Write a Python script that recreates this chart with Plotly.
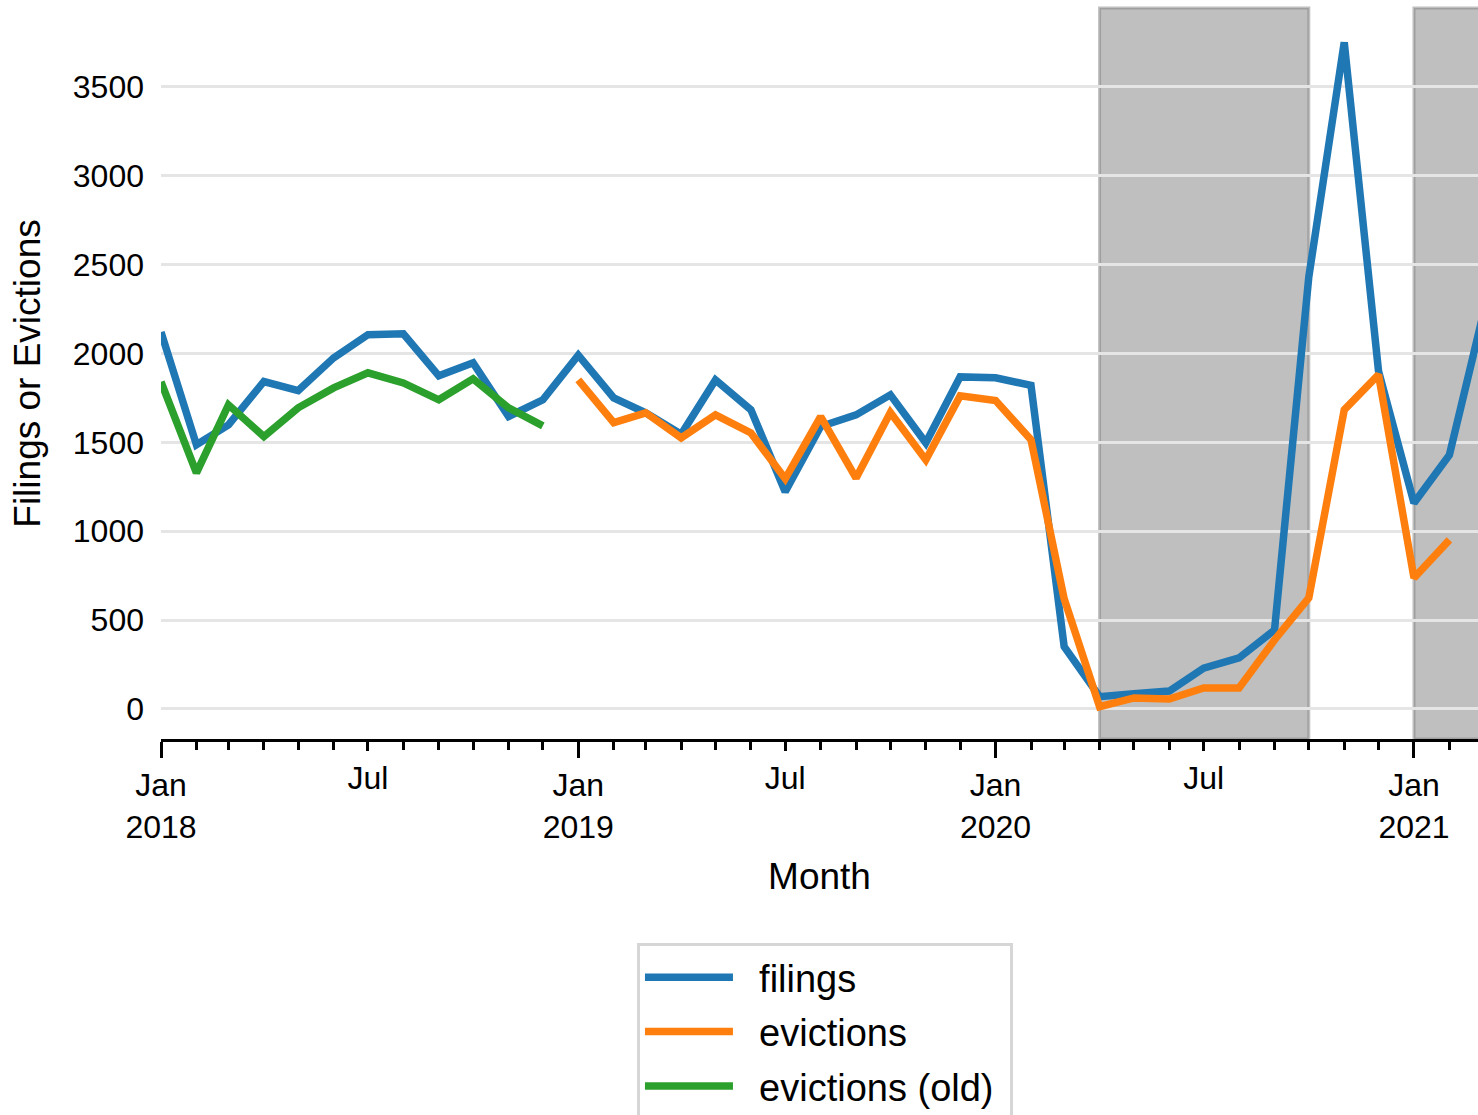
import pandas as pd
import plotly.graph_objects as go

# ---- data ----
months = pd.date_range("2018-01-01", periods=39, freq="MS")

filings = [2120, 1486, 1598, 1842, 1791, 1975, 2105, 2110, 1874, 1947, 1645, 1739,
           1990, 1750, 1666, 1545, 1851, 1683, 1222, 1589, 1654, 1767, 1497, 1868,
           1863, 1820, 351, 69, 85, 101, 230, 287, 444, 2430, 3750, 1900, 1159, 1429,
           2180]

evictions_months = months[12:38]
evictions = [1851, 1611, 1666, 1525, 1654, 1553, 1295, 1645, 1299, 1668, 1401, 1761,
             1735, 1514, 620, 13, 62, 56, 118, 118, 388, 625, 1683, 1880, 737, 951]

evictions_old_months = months[0:12]
evictions_old = [1840, 1328, 1711, 1532, 1694, 1806, 1891, 1834, 1739, 1857, 1694, 1592]

shade_starts = ["2020-04-01", "2021-01-01"]
shade_ends = ["2020-10-01", "2021-04-01"]

major_tickvals = ["2018-01-01", "2019-01-01", "2020-01-01", "2021-01-01"]
major_ticktext = ["Jan<br>2018", "Jan<br>2019", "Jan<br>2020", "Jan<br>2021"]
jul_tickvals = ["2018-07-01", "2019-07-01", "2020-07-01"]
jul_ticktext = ["Jul", "Jul", "Jul"]
y_tickvals = [0, 500, 1000, 1500, 2000, 2500, 3000, 3500]

# ---- styling ----
FONT = "Liberation Sans, Arial, Helvetica, sans-serif"
BLUE, ORANGE, GREEN = "#1f77b4", "#ff7f0e", "#2ca02c"
LW = 7.5
PAD = "\u00a0\u00a0"

fig = go.Figure()
fig.add_trace(go.Scatter(x=months, y=filings, mode="lines", name=PAD + "filings",
                         line=dict(color=BLUE, width=LW), legendgroup="a"))
fig.add_trace(go.Scatter(x=evictions_months, y=evictions, mode="lines",
                         name=PAD + "evictions",
                         line=dict(color=ORANGE, width=LW), legendgroup="b"))
fig.add_trace(go.Scatter(x=evictions_old_months, y=evictions_old, mode="lines",
                         name=PAD + "evictions (old)" + "\u00a0", xaxis="x2",
                         line=dict(color=GREEN, width=LW), legendgroup="c"))

for s, e in zip(shade_starts, shade_ends):
    fig.add_shape(type="rect", xref="x", yref="paper", x0=s, x1=e, y0=0, y1=1,
                  fillcolor="rgba(128,128,128,0.5)",
                  line=dict(color="rgba(128,128,128,0.5)", width=3),
                  layer="below")

x_range = ["2018-01-01", "2021-02-26"]

fig.update_layout(
    width=1478, height=1115, autosize=False,
    margin=dict(l=161, r=0, t=8, b=376, pad=0, autoexpand=False),
    paper_bgcolor="white", plot_bgcolor="white",
    font=dict(family=FONT, color="black", size=32),
    showlegend=True,
    legend=dict(x=0.3614, y=-0.279, xanchor="left", yanchor="top",
                font=dict(size=38, family=FONT, color="black"),
                bordercolor="#d6d6d6", borderwidth=3, bgcolor="white",
                itemwidth=88, tracegroupgap=2),
    xaxis=dict(type="date", range=x_range, showgrid=False, zeroline=False,
               showline=True, linecolor="black", linewidth=3,
               ticks="outside", ticklen=16, tickwidth=3, tickcolor="black",
               tickvals=major_tickvals, ticktext=major_ticktext,
               tickfont=dict(size=32, family=FONT, color="black"),
               minor=dict(ticks="outside", ticklen=8, tickwidth=2.5,
                          tickcolor="black", dtick="M1", tick0="2018-01-01",
                          showgrid=False),
               title=dict(text="Month", font=dict(size=37, family=FONT, color="black"),
                          standoff=20)),
    xaxis2=dict(type="date", overlaying="x", matches="x", anchor="y", side="bottom",
                range=x_range, showgrid=False, zeroline=False, showline=False,
                ticks="outside", ticklen=11, tickwidth=2.5, tickcolor="black",
                tickvals=jul_tickvals, ticktext=jul_ticktext,
                tickfont=dict(size=32, family=FONT, color="black")),
    yaxis=dict(range=[-169, 3943], tickvals=y_tickvals, showgrid=True,
               gridcolor="#e5e5e5", gridwidth=2.5, zeroline=False, showline=False,
               ticks="", ticklabelstandoff=16,
               tickfont=dict(size=32, family=FONT, color="black"),
               title=dict(text="Filings or Evictions",
                          font=dict(size=37, family=FONT, color="black"), standoff=20)),
)

fig.write_html(
    "out.html",
    config={"displayModeBar": False},
    post_script="document.body.style.margin='0';document.body.style.overflow='hidden';",
)
